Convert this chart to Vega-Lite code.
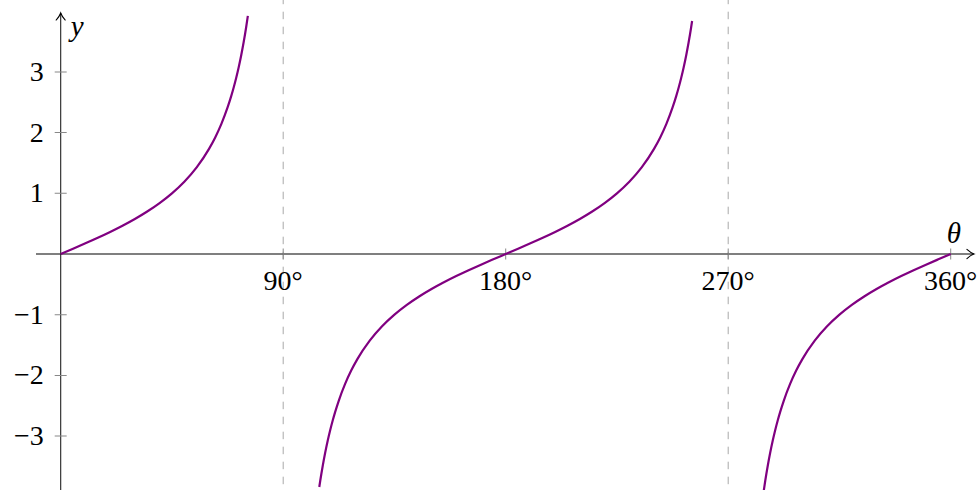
{
  "$schema": "https://vega.github.io/schema/vega-lite/v6.json",
  "width": 980,
  "height": 490,
  "autosize": {"type": "none"},
  "padding": 0,
  "background": "white",
  "config": {"view": {"stroke": null}},
  "datasets": {
    "curve": [
      {"seg": 1, "theta": 0, "y": 0}, {"seg": 1, "theta": 5, "y": 0.0875}, {"seg": 1, "theta": 10, "y": 0.1763}, {"seg": 1, "theta": 15, "y": 0.2679}, {"seg": 1, "theta": 20, "y": 0.364}, {"seg": 1, "theta": 25, "y": 0.4663}, {"seg": 1, "theta": 30, "y": 0.5774}, {"seg": 1, "theta": 35, "y": 0.7002}, {"seg": 1, "theta": 40, "y": 0.8391}, {"seg": 1, "theta": 45, "y": 1.0}, {"seg": 1, "theta": 50, "y": 1.1918}, {"seg": 1, "theta": 55, "y": 1.4281}, {"seg": 1, "theta": 60, "y": 1.7321}, {"seg": 1, "theta": 62.5, "y": 1.921}, {"seg": 1, "theta": 65, "y": 2.1445}, {"seg": 1, "theta": 67.5, "y": 2.4142}, {"seg": 1, "theta": 69, "y": 2.6051}, {"seg": 1, "theta": 70, "y": 2.7475}, {"seg": 1, "theta": 71, "y": 2.9042}, {"seg": 1, "theta": 72, "y": 3.0777}, {"seg": 1, "theta": 73, "y": 3.2709}, {"seg": 1, "theta": 74, "y": 3.4874}, {"seg": 1, "theta": 75, "y": 3.7321}, {"seg": 1, "theta": 75.7, "y": 3.9234},
      {"seg": 2, "theta": 104.6, "y": -3.8391}, {"seg": 2, "theta": 105, "y": -3.7321}, {"seg": 2, "theta": 106, "y": -3.4874}, {"seg": 2, "theta": 107, "y": -3.2709}, {"seg": 2, "theta": 108, "y": -3.0777}, {"seg": 2, "theta": 109, "y": -2.9042}, {"seg": 2, "theta": 110, "y": -2.7475}, {"seg": 2, "theta": 111, "y": -2.6051}, {"seg": 2, "theta": 112.5, "y": -2.4142}, {"seg": 2, "theta": 115, "y": -2.1445}, {"seg": 2, "theta": 117.5, "y": -1.921}, {"seg": 2, "theta": 120, "y": -1.7321}, {"seg": 2, "theta": 125, "y": -1.4281}, {"seg": 2, "theta": 130, "y": -1.1918}, {"seg": 2, "theta": 135, "y": -1.0}, {"seg": 2, "theta": 140, "y": -0.8391}, {"seg": 2, "theta": 145, "y": -0.7002}, {"seg": 2, "theta": 150, "y": -0.5774}, {"seg": 2, "theta": 155, "y": -0.4663}, {"seg": 2, "theta": 160, "y": -0.364}, {"seg": 2, "theta": 165, "y": -0.2679}, {"seg": 2, "theta": 170, "y": -0.1763}, {"seg": 2, "theta": 175, "y": -0.0875}, {"seg": 2, "theta": 180, "y": 0}, {"seg": 2, "theta": 185, "y": 0.0875}, {"seg": 2, "theta": 190, "y": 0.1763}, {"seg": 2, "theta": 195, "y": 0.2679}, {"seg": 2, "theta": 200, "y": 0.364}, {"seg": 2, "theta": 205, "y": 0.4663}, {"seg": 2, "theta": 210, "y": 0.5774}, {"seg": 2, "theta": 215, "y": 0.7002}, {"seg": 2, "theta": 220, "y": 0.8391}, {"seg": 2, "theta": 225, "y": 1.0}, {"seg": 2, "theta": 230, "y": 1.1918}, {"seg": 2, "theta": 235, "y": 1.4281}, {"seg": 2, "theta": 240, "y": 1.7321}, {"seg": 2, "theta": 242.5, "y": 1.921}, {"seg": 2, "theta": 245, "y": 2.1445}, {"seg": 2, "theta": 247.5, "y": 2.4142}, {"seg": 2, "theta": 249, "y": 2.6051}, {"seg": 2, "theta": 250, "y": 2.7475}, {"seg": 2, "theta": 251, "y": 2.9042}, {"seg": 2, "theta": 252, "y": 3.0777}, {"seg": 2, "theta": 253, "y": 3.2709}, {"seg": 2, "theta": 254, "y": 3.4874}, {"seg": 2, "theta": 255, "y": 3.7321}, {"seg": 2, "theta": 255.4, "y": 3.8391},
      {"seg": 3, "theta": 284.3, "y": -3.9234}, {"seg": 3, "theta": 285, "y": -3.7321}, {"seg": 3, "theta": 286, "y": -3.4874}, {"seg": 3, "theta": 287, "y": -3.2709}, {"seg": 3, "theta": 288, "y": -3.0777}, {"seg": 3, "theta": 289, "y": -2.9042}, {"seg": 3, "theta": 290, "y": -2.7475}, {"seg": 3, "theta": 291, "y": -2.6051}, {"seg": 3, "theta": 292.5, "y": -2.4142}, {"seg": 3, "theta": 295, "y": -2.1445}, {"seg": 3, "theta": 297.5, "y": -1.921}, {"seg": 3, "theta": 300, "y": -1.7321}, {"seg": 3, "theta": 305, "y": -1.4281}, {"seg": 3, "theta": 310, "y": -1.1918}, {"seg": 3, "theta": 315, "y": -1.0}, {"seg": 3, "theta": 320, "y": -0.8391}, {"seg": 3, "theta": 325, "y": -0.7002}, {"seg": 3, "theta": 330, "y": -0.5774}, {"seg": 3, "theta": 335, "y": -0.4663}, {"seg": 3, "theta": 340, "y": -0.364}, {"seg": 3, "theta": 345, "y": -0.2679}, {"seg": 3, "theta": 350, "y": -0.1763}, {"seg": 3, "theta": 355, "y": -0.0875}, {"seg": 3, "theta": 360, "y": 0}
    ],
    "guides": [{"theta": 90}, {"theta": 270}],
    "xticks": [{"theta": 90, "y": 0, "label": "90°"}, {"theta": 180, "y": 0, "label": "180°"}, {"theta": 270, "y": 0, "label": "270°"}, {"theta": 360, "y": 0, "label": "360°"}],
    "yticks": [{"theta": 0, "y": -3, "label": "−3"}, {"theta": 0, "y": -2, "label": "−2"}, {"theta": 0, "y": -1, "label": "−1"}, {"theta": 0, "y": 1, "label": "1"}, {"theta": 0, "y": 2, "label": "2"}, {"theta": 0, "y": 3, "label": "3"}],
    "xaxis": [{"theta_start": -10, "theta_end": 369.4, "y": 0, "title": "θ"}],
    "yaxis": [{"theta": 0, "y_start": -3.9, "y_end": 3.97, "title": "y"}]
  },
  "layer": [
    {
      "data": {"name": "guides"},
      "mark": {"type": "rule", "color": "#a8a8a8", "strokeWidth": 1, "strokeDash": [7.5, 7.5], "strokeDashOffset": 3.3},
      "encoding": {
        "x": {"field": "theta", "type": "quantitative", "scale": {"domain": [-24.55, 371.85], "nice": false, "zero": false}, "axis": null}
      }
    },
    {
      "data": {"name": "xaxis"},
      "mark": {"type": "rule", "color": "black", "strokeWidth": 1.2},
      "encoding": {
        "x": {"field": "theta_start", "type": "quantitative", "scale": {"domain": [-24.55, 371.85], "nice": false, "zero": false}, "axis": null},
        "x2": {"field": "theta_end"},
        "y": {"field": "y", "type": "quantitative", "scale": {"domain": [-3.888, 4.1845], "nice": false, "zero": false}, "axis": null}
      }
    },
    {
      "data": {"name": "yaxis"},
      "mark": {"type": "rule", "color": "#222", "strokeWidth": 1.1},
      "encoding": {
        "x": {"field": "theta", "type": "quantitative", "axis": null},
        "y": {"field": "y_start", "type": "quantitative", "axis": null},
        "y2": {"field": "y_end"}
      }
    },
    {
      "data": {"name": "xticks"},
      "mark": {"type": "tick", "orient": "vertical", "size": 11, "thickness": 1, "color": "#888", "opacity": 1},
      "encoding": {
        "x": {"field": "theta", "type": "quantitative", "axis": null},
        "y": {"field": "y", "type": "quantitative", "axis": null}
      }
    },
    {
      "data": {"name": "yticks"},
      "mark": {"type": "tick", "orient": "horizontal", "size": 12, "thickness": 1, "color": "#888", "opacity": 1},
      "encoding": {
        "x": {"field": "theta", "type": "quantitative", "axis": null},
        "y": {"field": "y", "type": "quantitative", "axis": null}
      }
    },
    {
      "data": {"name": "xaxis"},
      "mark": {"type": "point", "shape": "M-1,-0.65Q-0.45,-0.15,0,0Q-0.45,0.15,-1,0.65", "size": 196, "filled": false, "color": "black", "strokeWidth": 1.1, "opacity": 1, "strokeCap": "round"},
      "encoding": {
        "x": {"field": "theta_end", "type": "quantitative", "axis": null},
        "y": {"field": "y", "type": "quantitative", "axis": null}
      }
    },
    {
      "data": {"name": "yaxis"},
      "mark": {"type": "point", "shape": "M-1,-0.65Q-0.45,-0.15,0,0Q-0.45,0.15,-1,0.65", "size": 196, "angle": -90, "filled": false, "color": "black", "strokeWidth": 1.1, "opacity": 1, "strokeCap": "round"},
      "encoding": {
        "x": {"field": "theta", "type": "quantitative", "axis": null},
        "y": {"field": "y_end", "type": "quantitative", "axis": null}
      }
    },
    {
      "data": {"name": "curve"},
      "mark": {"type": "line", "color": "#800080", "strokeWidth": 2.2, "interpolate": "monotone"},
      "encoding": {
        "x": {"field": "theta", "type": "quantitative", "axis": null},
        "y": {"field": "y", "type": "quantitative", "axis": null},
        "detail": {"field": "seg", "type": "nominal"}
      }
    },
    {
      "data": {"name": "xticks"},
      "mark": {"type": "text", "font": "Liberation Serif", "fontSize": 28, "align": "center", "baseline": "alphabetic", "dy": 36, "color": "black"},
      "encoding": {
        "x": {"field": "theta", "type": "quantitative", "axis": null},
        "y": {"field": "y", "type": "quantitative", "axis": null},
        "text": {"field": "label"}
      }
    },
    {
      "data": {"name": "yticks"},
      "mark": {"type": "text", "font": "Liberation Serif", "fontSize": 28, "align": "right", "baseline": "middle", "dx": -17, "dy": 1, "color": "black"},
      "encoding": {
        "x": {"field": "theta", "type": "quantitative", "axis": null},
        "y": {"field": "y", "type": "quantitative", "axis": null},
        "text": {"field": "label"}
      }
    },
    {
      "data": {"name": "xaxis"},
      "mark": {"type": "text", "font": "Liberation Serif", "fontSize": 29, "fontStyle": "italic", "align": "center", "baseline": "alphabetic", "dx": -20, "dy": -10.7, "color": "black"},
      "encoding": {
        "x": {"field": "theta_end", "type": "quantitative", "axis": null},
        "y": {"field": "y", "type": "quantitative", "axis": null},
        "text": {"field": "title"}
      }
    },
    {
      "data": {"name": "yaxis"},
      "mark": {"type": "text", "font": "Liberation Serif", "fontSize": 29, "fontStyle": "italic", "align": "left", "baseline": "alphabetic", "dx": 10, "dy": 22.5, "color": "black"},
      "encoding": {
        "x": {"field": "theta", "type": "quantitative", "axis": null},
        "y": {"field": "y_end", "type": "quantitative", "axis": null},
        "text": {"field": "title"}
      }
    }
  ]
}
